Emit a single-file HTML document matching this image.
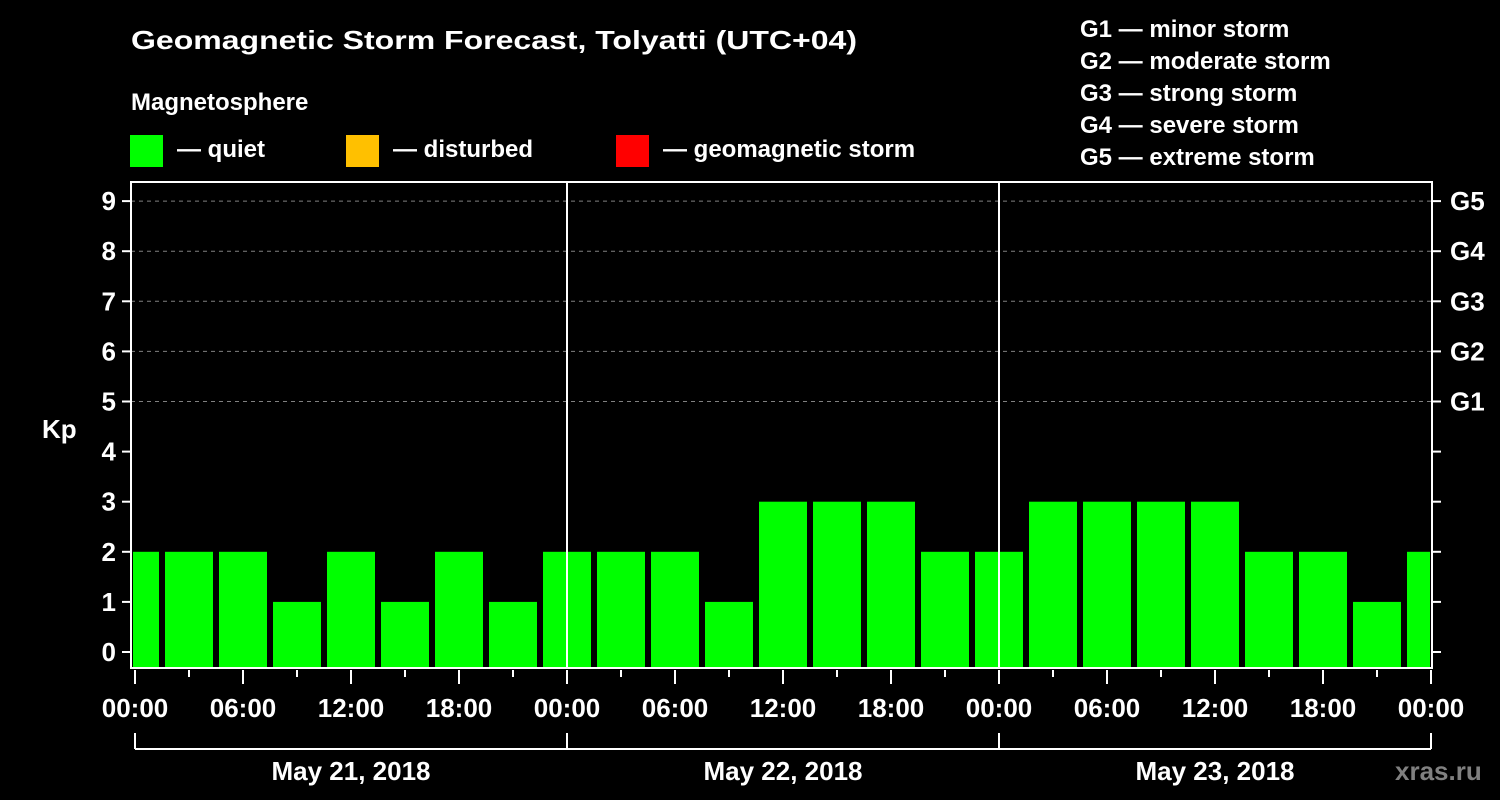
<!DOCTYPE html>
<html><head><meta charset="utf-8"><style>
body{margin:0;background:#000;}
svg{display:block;font-family:"Liberation Sans",Arial,sans-serif;font-weight:bold;}
</style></head><body>
<svg id="chart" width="1500" height="800" viewBox="0 0 1500 800">
<rect width="1500" height="800" fill="#000"/>
<text x="131" y="49" fill="#fff" font-size="26" textLength="726" lengthAdjust="spacingAndGlyphs">Geomagnetic Storm Forecast, Tolyatti (UTC+04)</text>
<text x="131" y="110" fill="#fff" font-size="24">Magnetosphere</text>
<rect x="130" y="135" width="33" height="32" fill="#00ff00"/>
<text x="177" y="157" fill="#fff" font-size="24">— quiet</text>
<rect x="346" y="135" width="33" height="32" fill="#ffc000"/>
<text x="393" y="157" fill="#fff" font-size="24">— disturbed</text>
<rect x="616" y="135" width="33" height="32" fill="#ff0000"/>
<text x="663" y="157" fill="#fff" font-size="24">— geomagnetic storm</text>
<g fill="#fff" font-size="24">
<text x="1080" y="37">G1 — minor storm</text>
<text x="1080" y="69">G2 — moderate storm</text>
<text x="1080" y="101">G3 — strong storm</text>
<text x="1080" y="133">G4 — severe storm</text>
<text x="1080" y="165">G5 — extreme storm</text>
</g>
<text x="42" y="438" fill="#fff" font-size="26">Kp</text>
<text x="1395" y="780" fill="#808080" font-size="26">xras.ru</text>
<g id="plot"></g>
</svg>
<script>
const kpValues=[2,2,2,1,2,1,2,1,2,2,2,1,3,3,3,2,2,3,3,3,3,2,2,1,2];
const yTicks=[0,1,2,3,4,5,6,7,8,9];
const gLevels=[5,6,7,8,9];
const gLabels=["G1","G2","G3","G4","G5"];
const timeLabels=["00:00","06:00","12:00","18:00"];
const dayLabels=["May 21, 2018","May 22, 2018","May 23, 2018"];
const barOffsetHours=-1.5;

const NS="http://www.w3.org/2000/svg";
const g=document.getElementById('plot');
const L=131,R=1432,T=182,B=668;
const x0=135,dayW=432;
function xs(h){return x0+h*dayW/24;}
function ys(v){return 652-v*50.1;}
function mk(t,a,p){const e=document.createElementNS(NS,t);for(const k in a)e.setAttribute(k,a[k]);(p||g).appendChild(e);return e;}

// grid
gLevels.forEach((v,i)=>{
  const ln=mk('line',{x1:L,x2:R,y1:ys(v),y2:ys(v),stroke:'#808080','stroke-width':1,'stroke-dasharray':'4,4'});
  
  
});
// bars
const clip=mk('clipPath',{id:'pc'});mk('rect',{x:L+2,y:T,width:R-L-4,height:B-T},clip);
kpValues.forEach((v,i)=>{
  const h0=barOffsetHours+3*i;
  const b=mk('rect',{x:xs(h0)+3,y:ys(v),width:xs(3)-xs(0)-6,height:B-ys(v),fill:'#00ff00','clip-path':'url(#pc)'});
  
  
});
// frame
const fr=mk('rect',{x:L,y:T,width:R-L,height:B-T,fill:'none',stroke:'#fff','stroke-width':2});


// day separators
[1,2].forEach(d=>{
  const s=mk('line',{x1:xs(24*d),x2:xs(24*d),y1:T,y2:B,stroke:'#fff','stroke-width':2});
  
  
});
// y ticks
yTicks.forEach(v=>{
  mk('line',{x1:L-9,x2:L,y1:ys(v),y2:ys(v),stroke:'#fff','stroke-width':2});
  mk('line',{x1:R,x2:R+9,y1:ys(v),y2:ys(v),stroke:'#fff','stroke-width':2});
  const t=mk('text',{x:116,y:ys(v)+9,fill:'#fff','font-size':26,'text-anchor':'end'});
  t.textContent=v;
  
  
});
gLevels.forEach((v,i)=>{
  const t=mk('text',{x:1450,y:ys(v)+9,fill:'#fff','font-size':26});
  t.textContent=gLabels[i];
  
  
});
// x ticks
for(let h=0;h<=72;h+=3){
  const long=h%6===0;
  mk('line',{x1:xs(h),x2:xs(h),y1:B+2,y2:B+(long?16:9),stroke:'#fff','stroke-width':2});
  if(long){
    const t=mk('text',{x:xs(h),y:717,fill:'#fff','font-size':26,'text-anchor':'middle'});
    t.textContent=timeLabels[(h%24)/6];
    
    
  }
}
// date brackets
mk('line',{x1:xs(0),x2:xs(72),y1:749,y2:749,stroke:'#fff','stroke-width':2});
for(let d=0;d<=3;d++)mk('line',{x1:xs(24*d),x2:xs(24*d),y1:733,y2:749,stroke:'#fff','stroke-width':2});
dayLabels.forEach((s,d)=>{
  const t=mk('text',{x:xs(24*d+12),y:780,fill:'#fff','font-size':26,'text-anchor':'middle'});
  t.textContent=s;
  
  
});
</script>
</body></html>
